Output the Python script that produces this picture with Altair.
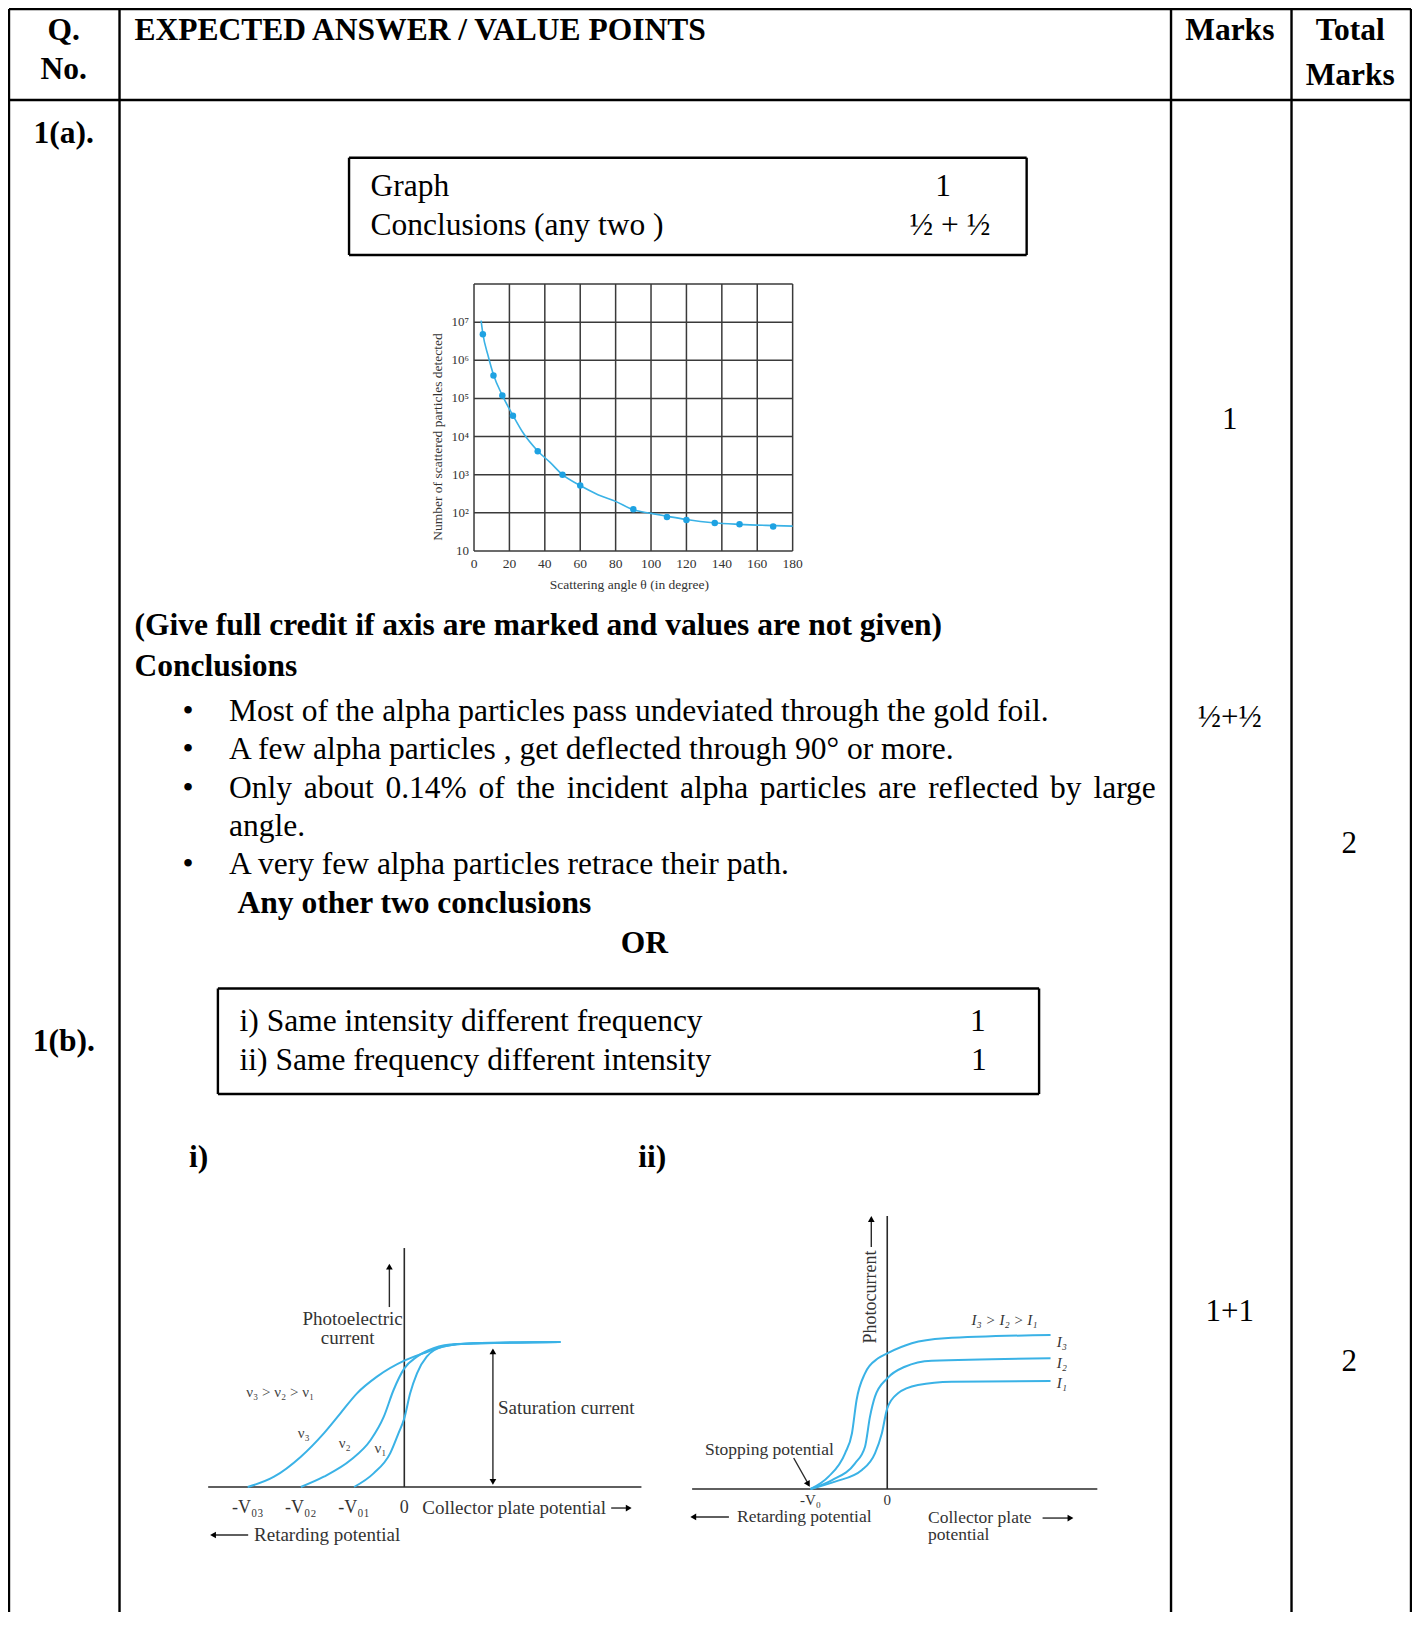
import altair as alt
import pandas as pd

# ------------------------------------------------------------------
# values
# ------------------------------------------------------------------
# 1(a) Rutherford scattering graph
scatter_angle = [5, 11, 16, 22, 36, 50, 60, 90, 109, 120, 136, 150, 169]
scatter_count = [4.8e6, 4.0e5, 1.2e5, 3.5e4, 4.1e3, 1.0e3, 5.2e2, 1.24e2, 78, 65, 54, 50, 44]
fit_angle = [4, 5, 8, 11, 16, 22, 28, 36, 43, 50, 60, 70, 80, 90, 100, 110, 120, 135, 150, 165, 180]
fit_count = [1.1e7, 5.0e6, 1.3e6, 4.2e5, 1.2e5, 3.6e4, 1.2e4, 4.2e3, 2.1e3, 1.0e3, 5.2e2,
             3.0e2, 2.0e2, 1.2e2, 97, 80, 67, 55, 50, 47, 45]
angle_ticks = [0, 20, 40, 60, 80, 100, 120, 140, 160, 180]
count_ticks = [10, 1e2, 1e3, 1e4, 1e5, 1e6, 1e7]
count_tick_labels = ["10", "10²", "10³", "10⁴", "10⁵", "10⁶", "10⁷"]
count_grid = [10, 1e2, 1e3, 1e4, 1e5, 1e6, 1e7, 1e8]

# 1(b)(i) same intensity, different frequency
nu3_v = [-3.21, -2.67, -2.12, -1.65, -1.31, -0.97, -0.56, 0.0, 0.39, 0.80, 1.41, 3.20]
nu3_i = [0.0, 0.071, 0.209, 0.37, 0.508, 0.646, 0.761, 0.871, 0.922, 0.968, 0.991, 1.0]
nu2_v = [-2.12, -1.65, -1.10, -0.69, -0.42, -0.22, 0.0, 0.26, 0.60, 1.07, 3.20]
nu2_i = [0.0, 0.071, 0.186, 0.324, 0.485, 0.669, 0.818, 0.899, 0.957, 0.986, 1.0]
nu1_v = [-1.03, -0.63, -0.29, -0.12, 0.0, 0.12, 0.26, 0.46, 0.80, 1.41, 3.20]
nu1_i = [0.0, 0.094, 0.232, 0.37, 0.474, 0.646, 0.784, 0.899, 0.968, 0.991, 1.0]
stop_pot_i = [-3.21, -2.12, -1.03, 0.0]
stop_pot_i_labels = ["-V₀₃", "-V₀₂", "-V₀₁", "0"]

# 1(b)(ii) same frequency, different intensity
i3_v = [-1.0, -0.766, -0.55, -0.46, -0.40, -0.29, -0.12, 0.0, 0.32, 0.75, 2.13]
i3_i = [0.0, 0.114, 0.331, 0.516, 0.824, 1.071, 1.21, 1.256, 1.349, 1.395, 1.426]
i2_v = [-1.0, -0.72, -0.42, -0.29, -0.225, -0.16, 0.0, 0.23, 0.58, 2.13]
i2_i = [0.0, 0.083, 0.238, 0.392, 0.67, 0.855, 1.025, 1.132, 1.188, 1.21]
i1_v = [-1.0, -0.68, -0.33, -0.16, -0.07, 0.0, 0.14, 0.40, 0.84, 2.13]
i1_i = [0.0, 0.068, 0.176, 0.33, 0.516, 0.747, 0.886, 0.963, 0.994, 1.0]
stop_pot_ii = [-1.0, 0.0]
stop_pot_ii_labels = ["-V₀", "0"]

# document texts
bold_texts = ["Q.", "No.", "EXPECTED ANSWER / VALUE POINTS", "Marks", "Total", "Marks",
              "1(a).", "(Give full credit if axis are marked and values are not given)",
              "Conclusions", "Any other two conclusions", "OR", "1(b).", "i)", "ii)"]
regular_texts = ["Graph", "1", "Conclusions (any two )", "½  + ½",
                 "Most of the alpha particles pass undeviated through the gold foil.",
                 "A few alpha particles , get deflected through 90° or more.",
                 "angle.", "A very few alpha particles retrace their path.",
                 "i) Same intensity different frequency", "1",
                 "ii) Same frequency different intensity", "1"]
justified_words = ["Only", "about", "0.14%", "of", "the", "incident", "alpha",
                   "particles", "are", "reflected", "by", "large"]
marks_texts = ["1", "½+½", "2", "1+1", "2"]

# ------------------------------------------------------------------
# layout (reference page pixels)
# ------------------------------------------------------------------
W, H = 1404, 1604
X0, X1 = 6, 1416
Y0 = 8
Y1 = Y0 + H


def px(x):
    return (x - X0) * W / (X1 - X0)


def py(y):
    return (y - Y0) * H / (Y1 - Y0)


SERIF = "Liberation Serif"
BLUE = "#3ab2e6"
DOT = "#1ea2e2"
INK = "#2a2a2a"
BODY = 31.5

CX = dict(domain=[X0, X1], range=[0, W], nice=False, zero=False)
CY = dict(domain=[Y0, Y1], range=[0, H], nice=False, zero=False)

bold_x = [62, 62, 133, 1233, 1354, 1354, 62, 133, 133, 236.5, 645, 62, 187.7, 639]
bold_y = [31, 69.5, 31, 31, 31, 76, 134, 625.5, 667, 903.5, 944, 1041.5, 1157.6, 1157.6]
bold_align = ["center", "center", "left", "center", "center", "center", "center",
              "left", "left", "left", "center", "center", "left", "left"]
reg_x = [370, 945, 370, 952, 228, 228, 228, 228, 238.6, 980, 238.6, 981]
reg_y = [186.7, 186.7, 226, 226, 711.6, 750, 826.7, 865.1, 1021.7, 1021.7, 1061.2, 1061.2]
reg_align = ["left", "center", "left", "center", "left", "left", "left", "left",
             "left", "center", "left", "center"]
bullet_y = [711.6, 750, 789.4, 865.1]
marks_x = [1233, 1233, 1353, 1233, 1353]
marks_y = [420, 718, 844, 1312, 1362]

# justified line: spread the words between the two text margins using
# Times-compatible advance widths (em units) of each word
just_left, just_right, just_y = 228, 1159, 789.4
word_em = [2.0, 2.222, 2.583, 0.833, 1.222, 3.222, 2.166, 3.388, 1.221, 3.498, 1.0, 1.999]
gap = (just_right - just_left - sum(word_em) * BODY) / (len(word_em) - 1)
just_x = []
acc = just_left
for w in word_em:
    just_x.append(acc)
    acc += w * BODY + gap

table_x = [7, 118, 1174, 1295, 1415]
table_top, table_head = 9, 100


def sc(d):
    return alt.Scale(**d)


def seg_layer(rows, sx, sy, color="black", width=2.0):
    df = pd.DataFrame(rows, columns=["x", "y", "x2", "y2"])
    return alt.Chart(df).mark_rule(color=color, strokeWidth=width).encode(
        x=alt.X("x:Q", scale=sc(sx), axis=None),
        y=alt.Y("y:Q", scale=sc(sy), axis=None),
        x2="x2:Q", y2="y2:Q")


def text_layer(labels, xs, ys, sx, sy, size, weight="normal", align="left",
               style="normal", angle=None, dx=0, dy=0, color="black"):
    df = pd.DataFrame({"t": labels, "x": xs, "y": ys})
    mk = dict(align=align, baseline="middle", font=SERIF, fontSize=size,
              fontWeight=weight, fontStyle=style, color=color, dx=dx, dy=dy)
    if angle is not None:
        mk["angle"] = angle
    return alt.Chart(df).mark_text(**mk).encode(
        x=alt.X("x:Q", scale=sc(sx), axis=None),
        y=alt.Y("y:Q", scale=sc(sy), axis=None),
        text="t:N")


def head_layer(xs, ys, shape, sx, sy, size=45, color="black", angle=None):
    df = pd.DataFrame({"x": xs, "y": ys})
    mk = dict(shape=shape, filled=True, size=size, color=color, opacity=1, strokeWidth=0)
    if angle is not None:
        mk["angle"] = angle
    return alt.Chart(df).mark_point(**mk).encode(
        x=alt.X("x:Q", scale=sc(sx), axis=None),
        y=alt.Y("y:Q", scale=sc(sy), axis=None))


def curve_layer(xs, ys, sx, sy, color=BLUE, width=2.0):
    df = pd.DataFrame({"x": xs, "y": ys})
    return alt.Chart(df).mark_line(color=color, strokeWidth=width, interpolate="monotone").encode(
        x=alt.X("x:Q", scale=sc(sx), axis=None),
        y=alt.Y("y:Q", scale=sc(sy), axis=None))


layers = []

# ---------------- table & boxes ----------------
tbl = [[x, table_top, x, 1640] for x in table_x]
tbl += [[7, table_top, 1415, table_top], [7, table_head, 1415, table_head]]
layers.append(seg_layer(tbl, CX, CY, width=2.4))
box = [[348.5, 157.7, 1029, 157.7], [348.5, 255, 1029, 255],
       [348.5, 157.7, 348.5, 255], [1029, 157.7, 1029, 255],
       [216.8, 988.5, 1041.5, 988.5], [216.8, 1094, 1041.5, 1094],
       [216.8, 988.5, 216.8, 1094], [1041.5, 988.5, 1041.5, 1094]]
layers.append(seg_layer(box, CX, CY, width=2.4))

# ---------------- document text ----------------
for al in ["left", "center"]:
    idx = [i for i, a in enumerate(bold_align) if a == al]
    layers.append(text_layer([bold_texts[i] for i in idx], [bold_x[i] for i in idx],
                             [bold_y[i] for i in idx], CX, CY, BODY, weight="bold", align=al))
    idx = [i for i, a in enumerate(reg_align) if a == al]
    layers.append(text_layer([regular_texts[i] for i in idx], [reg_x[i] for i in idx],
                             [reg_y[i] for i in idx], CX, CY, BODY, align=al))
layers.append(text_layer(justified_words, just_x, [just_y] * len(justified_words), CX, CY, BODY))
layers.append(text_layer(["•"] * len(bullet_y), [186.7] * len(bullet_y), bullet_y, CX, CY, BODY,
                         align="center"))
layers.append(text_layer(marks_texts, marks_x, marks_y, CX, CY, 31, align="center"))

# ---------------- 1(a) scattering graph ----------------
SX = dict(domain=[0, 180], range=[px(474), px(794)], nice=False, zero=False)
SY = dict(type="log", domain=[10, 1e8], range=[py(551), py(284)], nice=False)
grid = [[a, 10, a, 1e8] for a in angle_ticks] + [[0, c, 180, c] for c in count_grid]
layers.append(seg_layer(grid, SX, SY, color="#3a3a3a", width=1.5))
layers.append(curve_layer(fit_angle, fit_count, SX, SY, color=BLUE, width=1.6))
layers.append(alt.Chart(pd.DataFrame({"a": scatter_angle, "c": scatter_count}))
              .mark_circle(size=42, color=DOT, opacity=1)
              .encode(x=alt.X("a:Q", scale=sc(SX), axis=None),
                      y=alt.Y("c:Q", scale=sc(SY), axis=None)))
layers.append(text_layer([str(a) for a in angle_ticks], angle_ticks, [10] * len(angle_ticks),
                         SX, SY, 13.5, align="center", dy=13, color="#333"))
layers.append(text_layer(count_tick_labels, [0] * len(count_ticks), count_ticks,
                         SX, SY, 13, align="right", dx=-5, color="#333"))
layers.append(text_layer(["Number of  scattered particles detected"], [438], [437], CX, CY, 13.5,
                         align="center", angle=270, color="#333"))
layers.append(text_layer(["Scattering angle  θ (in degree)"], [630], [585], CX, CY, 13.5,
                         align="center", color="#333"))

# ---------------- 1(b)(i) ----------------
O1X, O1Y, K1X, K1Y = 404, 1487, 49, 145
G1X = dict(domain=[-4.2, 5.0], range=[px(O1X - 4.2 * K1X), px(O1X + 5.0 * K1X)], nice=False, zero=False)
G1Y = dict(domain=[-0.4, 1.7], range=[py(O1Y + 0.4 * K1Y), py(O1Y - 1.7 * K1Y)], nice=False, zero=False)
ax1 = [[-4.02, 0, 4.86, 0], [0, 0, 0, 1.648]]
layers.append(seg_layer(ax1, G1X, G1Y, color=INK, width=1.6))
arr1 = [[-0.306, 1.241, -0.306, 1.51], [1.816, 0.03, 1.816, 0.94],
        [4.24, -0.145, 4.58, -0.145], [-3.88, -0.331, -3.2, -0.331]]
layers.append(seg_layer(arr1, G1X, G1Y, color=INK, width=1.4))
layers.append(head_layer([-0.306, 1.816], [1.52, 0.935], "triangle-up", G1X, G1Y))
layers.append(head_layer([1.816], [0.035], "triangle-down", G1X, G1Y))
layers.append(head_layer([4.6], [-0.145], "triangle-right", G1X, G1Y))
layers.append(head_layer([-3.92], [-0.331], "triangle-left", G1X, G1Y))
layers.append(curve_layer(nu3_v, nu3_i, G1X, G1Y))
layers.append(curve_layer(nu2_v, nu2_i, G1X, G1Y))
layers.append(curve_layer(nu1_v, nu1_i, G1X, G1Y))
layers.append(text_layer(["Photoelectric", "current"], [-1.06, -1.16], [1.159, 1.028], G1X, G1Y,
                         19, align="center", color="#333"))
layers.append(text_layer(["Saturation current", "Collector plate potential", "Retarding potential"],
                         [1.92, 0.37, -3.08], [0.545, -0.145, -0.331], G1X, G1Y, 19, color="#333"))
layers.append(text_layer(stop_pot_i_labels, stop_pot_i, [-0.145] * 4, G1X, G1Y, 18,
                         align="center", color="#333"))
layers.append(text_layer(["ν₃ > ν₂ > ν₁"], [-3.24], [0.655], G1X, G1Y, 15, color="#444"))
layers.append(text_layer(["ν₃", "ν₂", "ν₁"], [-2.06, -1.22, -0.49], [0.372, 0.303, 0.269],
                         G1X, G1Y, 15, align="center", color="#444"))

# ---------------- 1(b)(ii) ----------------
O2X, O2Y, K2X, K2Y = 889, 1489, 77, 108
G2X = dict(domain=[-2.7, 2.9], range=[px(O2X - 2.7 * K2X), px(O2X + 2.9 * K2X)], nice=False, zero=False)
G2Y = dict(domain=[-0.6, 2.6], range=[py(O2Y + 0.6 * K2Y), py(O2Y - 2.6 * K2Y)], nice=False, zero=False)
ax2 = [[-2.545, 0, 2.74, 0], [0, 0, 0, 2.528]]
layers.append(seg_layer(ax2, G2X, G2Y, color=INK, width=1.6))
arr2 = [[-0.208, 2.24, -0.208, 2.49], [-1.22, 0.287, -1.04, 0.06],
        [-2.5, -0.259, -2.065, -0.259], [2.026, -0.269, 2.37, -0.269]]
layers.append(seg_layer(arr2, G2X, G2Y, color=INK, width=1.4))
layers.append(head_layer([-0.208], [2.5], "triangle-up", G2X, G2Y))
layers.append(head_layer([-1.03], [0.045], "triangle-down", G2X, G2Y, angle=330))
layers.append(head_layer([-2.53], [-0.259], "triangle-left", G2X, G2Y))
layers.append(head_layer([2.39], [-0.269], "triangle-right", G2X, G2Y))
layers.append(curve_layer(i3_v, i3_i, G2X, G2Y))
layers.append(curve_layer(i2_v, i2_i, G2X, G2Y))
layers.append(curve_layer(i1_v, i1_i, G2X, G2Y))
layers.append(text_layer(["Photocurrent"], [-0.208], [1.778], G2X, G2Y, 18, align="center",
                         angle=270, color="#333"))
layers.append(text_layer(["Stopping potential", "Retarding potential", "Collector plate", "potential"],
                         [-2.377, -1.96, 0.532, 0.532], [0.361, -0.259, -0.269, -0.426],
                         G2X, G2Y, 17.5, color="#333"))
layers.append(text_layer(stop_pot_ii_labels, stop_pot_ii, [-0.1, -0.1], G2X, G2Y, 15,
                         align="center", color="#333"))
layers.append(text_layer(["I₃ > I₂ > I₁"], [1.53], [1.565], G2X, G2Y, 15, align="center",
                         style="italic", color="#333"))
layers.append(text_layer(["I₃", "I₂", "I₁"], [2.21, 2.21, 2.21], [1.36, 1.167, 0.98], G2X, G2Y, 15,
                         style="italic", color="#333"))

chart = (alt.layer(*layers)
         .resolve_scale(x="independent", y="independent")
         .properties(width=W, height=H, padding=0,
                     autosize=alt.AutoSizeParams(type="none"), background="white")
         .configure_view(strokeWidth=0))

chart.save("out.html", embed_options={"renderer": "svg", "actions": False})
